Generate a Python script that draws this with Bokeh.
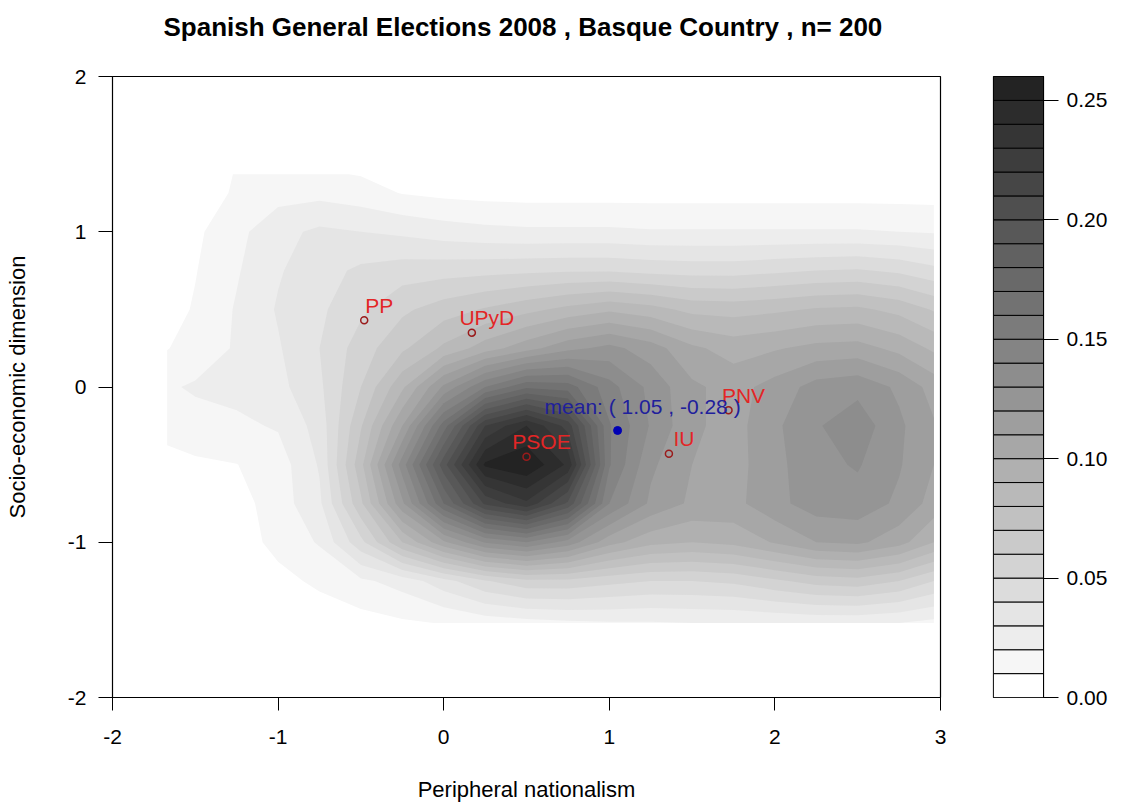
import numpy as np
from bokeh.plotting import figure
from bokeh.models import Range1d, FixedTicker, PrintfTickFormatter, Title
from bokeh.core.properties import value
from bokeh.layouts import row
from bokeh.embed import file_html
from bokeh.resources import INLINE

# ---- text ----
title_text = "Spanish General Elections 2008 ,  Basque Country , n= 200"
x_label = "Peripheral nationalism"
y_label = "Socio-economic dimension"

# ---- density grid (2-D kernel density of respondents) ----
grid_x = [-1.67, -1.5, -1.25, -1.0, -0.75, -0.5, -0.25, 0.0, 0.25, 0.5,
          0.75, 1.0, 1.25, 1.5, 1.75, 2.0, 2.25, 2.5, 2.75, 2.96]
grid_y_top_down = [1.37, 1.25, 1.0, 0.75, 0.5, 0.25, 0.0,
                   -0.25, -0.5, -0.75, -1.0, -1.25, -1.52]
density_top_down = [
    [0.002, 0.005, 0.0105, 0.0115, 0.0112, 0.0095, 0.0070, 0.0055, 0.0045, 0.004, 0.004, 0.004, 0.004, 0.004, 0.004, 0.004, 0.004, 0.004, 0.004, 0.004],
    [0.003, 0.006, 0.0110, 0.0160, 0.0170, 0.0145, 0.0095, 0.0075, 0.0065, 0.006, 0.006, 0.006, 0.006, 0.006, 0.006, 0.006, 0.006, 0.006, 0.006, 0.006],
    [0.004, 0.008, 0.017, 0.027, 0.032, 0.030, 0.028, 0.025, 0.023, 0.022, 0.022, 0.022, 0.021, 0.021, 0.021, 0.021, 0.021, 0.021, 0.020, 0.019],
    [0.004, 0.0095, 0.019, 0.029, 0.036, 0.042, 0.045, 0.046, 0.047, 0.048, 0.049, 0.049, 0.047, 0.046, 0.046, 0.048, 0.050, 0.051, 0.048, 0.043],
    [0.006, 0.011, 0.021, 0.031, 0.038, 0.048, 0.058, 0.065, 0.071, 0.077, 0.083, 0.088, 0.084, 0.077, 0.076, 0.078, 0.081, 0.082, 0.077, 0.069],
    [0.0095, 0.015, 0.021, 0.029, 0.040, 0.055, 0.068, 0.082, 0.095, 0.106, 0.117, 0.123, 0.115, 0.102, 0.096, 0.099, 0.103, 0.104, 0.097, 0.088],
    [0.019, 0.021, 0.023, 0.027, 0.038, 0.060, 0.088, 0.122, 0.150, 0.168, 0.165, 0.144, 0.127, 0.112, 0.106, 0.114, 0.124, 0.127, 0.118, 0.106],
    [0.014, 0.017, 0.018, 0.021, 0.034, 0.069, 0.110, 0.165, 0.220, 0.240, 0.216, 0.151, 0.129, 0.112, 0.106, 0.118, 0.129, 0.136, 0.122, 0.111],
    [0.006, 0.008, 0.0098, 0.015, 0.031, 0.077, 0.135, 0.196, 0.252, 0.259, 0.238, 0.151, 0.122, 0.110, 0.106, 0.117, 0.127, 0.131, 0.121, 0.110],
    [0.003, 0.004, 0.006, 0.015, 0.028, 0.068, 0.118, 0.170, 0.212, 0.228, 0.198, 0.140, 0.118, 0.108, 0.107, 0.117, 0.125, 0.126, 0.118, 0.106],
    [0.002, 0.003, 0.005, 0.013, 0.021, 0.047, 0.080, 0.108, 0.131, 0.140, 0.126, 0.104, 0.093, 0.090, 0.093, 0.101, 0.110, 0.112, 0.104, 0.090],
    [0.001, 0.002, 0.003, 0.007, 0.012, 0.018, 0.024, 0.036, 0.049, 0.057, 0.057, 0.053, 0.050, 0.050, 0.052, 0.058, 0.064, 0.066, 0.060, 0.050],
    [0.000, 0.000, 0.001, 0.002, 0.004, 0.006, 0.0085, 0.0105, 0.014, 0.016, 0.018, 0.019, 0.019, 0.020, 0.020, 0.021, 0.022, 0.022, 0.020, 0.017],
]

# contour levels shown in the key
levels = [round(0.01 * i, 2) for i in range(27)]
key_ticks = [0.0, 0.05, 0.10, 0.15, 0.20, 0.25]

# ---- party positions and sample mean ----
party_names = ["PP", "UPyD", "PSOE", "IU", "PNV"]
party_x = [-0.48, 0.17, 0.50, 1.36, 1.72]
party_y = [0.43, 0.35, -0.45, -0.43, -0.15]
mean_x = 1.05
mean_y = -0.28

FONT = "Liberation Sans"
FRAME_W, FRAME_H = 828, 621

# white -> dark grey ramp, one colour per band
n_bands = len(levels) - 1
band_colors = []
for k in range(n_bands):
    v = int(round(255 - (255 - 35) * k / (n_bands - 1)))
    band_colors.append("#%02x%02x%02x" % (v, v, v))

grid_y = grid_y_top_down[::-1]
density = np.array(density_top_down[::-1])

# ---------------- main panel ----------------
p = figure(frame_width=FRAME_W, frame_height=FRAME_H,
           x_range=Range1d(-2, 3), y_range=Range1d(-2, 2),
           min_border_left=112, min_border_right=20,
           min_border_top=76, min_border_bottom=107,
           output_backend="svg", toolbar_location=None,
           background_fill_color="white", border_fill_color="white")
p.xgrid.visible = False
p.ygrid.visible = False
p.outline_line_color = "black"
p.outline_line_width = 1.2

# filled density bands, painted from the lowest level upward
for k in range(1, n_bands):
    p.contour(grid_x, grid_y, density, levels=[levels[k], 1.0],
              fill_color=band_colors[k], line_color=None)

# party positions
p.scatter(party_x, party_y, marker="circle", size=7, fill_color=None,
          line_color="#9a1b1b", line_width=1.5)
p.text(party_x, party_y, text=party_names, text_align="center",
       text_baseline="alphabetic", x_offset=15, y_offset=-15,
       text_color="#e32626", text_font_size="21px", text_font=value(FONT))

# mean of the sample
p.scatter([mean_x], [mean_y], marker="circle", size=8, fill_color="#0000b4",
          line_color="#0000b4")
p.text([mean_x], [mean_y], text=["mean: ( %.2f , %.2f )" % (mean_x, mean_y)],
       text_align="center", text_baseline="alphabetic", x_offset=25, y_offset=-24,
       text_color="#20209c", text_font_size="21px", text_font=value(FONT))

# heading, with a blank gap panel between it and the frame
p.title.text = title_text
p.title.align = "center"
p.title.vertical_align = "top"
p.title.standoff = 0
p.title.text_font = FONT
p.title.text_font_size = "26px"
p.title.text_font_style = "bold"
p.title.text_color = "black"
p.add_layout(Title(text=" ", text_font_size="10px", standoff=20), "above")

# axes
for ax in (p.xaxis[0], p.yaxis[0]):
    ax.axis_line_color = "black"
    ax.major_tick_line_color = "black"
    ax.minor_tick_line_color = None
    ax.major_tick_in = 0
    ax.major_label_text_font = FONT
    ax.major_label_text_font_size = "21px"
    ax.major_label_text_color = "black"
    ax.axis_label_text_font = FONT
    ax.axis_label_text_font_size = "22px"
    ax.axis_label_text_font_style = "normal"
    ax.axis_label_text_color = "black"

p.xaxis.ticker = FixedTicker(ticks=[-2, -1, 0, 1, 2, 3])
p.xaxis.major_label_overrides = {-2: "-2", -1: "-1", 0: "0", 1: "1", 2: "2", 3: "3"}
p.xaxis.major_tick_out = 13
p.xaxis.major_label_standoff = 19
p.xaxis.axis_label = x_label
p.xaxis.axis_label_standoff = 30

p.yaxis.ticker = FixedTicker(ticks=[-2, -1, 0, 1, 2])
p.yaxis.major_label_overrides = {-2: "-2", -1: "-1", 0: "0", 1: "1", 2: "2"}
p.yaxis.major_tick_out = 14
p.yaxis.major_label_standoff = 12
p.yaxis.axis_label = y_label
p.yaxis.axis_label_standoff = 35

# ---------------- colour key ----------------
key = figure(frame_width=50, frame_height=FRAME_H,
             x_range=Range1d(0, 1), y_range=Range1d(0, levels[-1]),
             min_border_left=33, min_border_right=78,
             min_border_top=76, min_border_bottom=107,
             x_axis_location=None, y_axis_location="right",
             output_backend="svg", toolbar_location=None,
             background_fill_color="white", border_fill_color="white")
key.xgrid.visible = False
key.ygrid.visible = False
key.outline_line_color = "black"
key.outline_line_width = 1.2
key.quad(left=0, right=1, bottom=levels[:-1], top=levels[1:],
         fill_color=band_colors, line_color="black", line_width=1)

kax = key.yaxis[0]
kax.ticker = FixedTicker(ticks=key_ticks)
kax.formatter = PrintfTickFormatter(format="%.2f")
kax.axis_line_color = "black"
kax.major_tick_line_color = "black"
kax.minor_tick_line_color = None
kax.major_tick_in = 0
kax.major_tick_out = 15
kax.major_label_standoff = 8
kax.major_label_text_font = FONT
kax.major_label_text_font_size = "21px"
kax.major_label_text_color = "black"

layout = row(p, key)

with open("out.html", "w") as f:
    f.write(file_html(layout, INLINE))
